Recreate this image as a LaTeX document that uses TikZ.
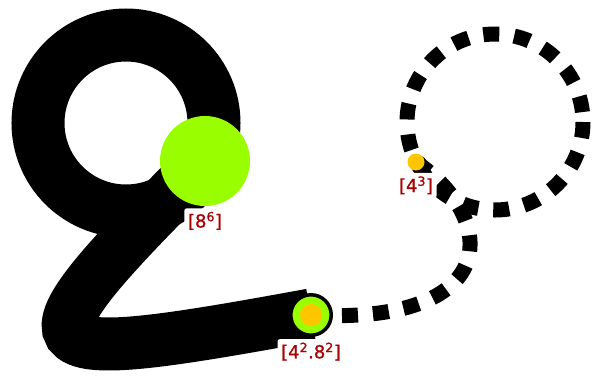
\documentclass[tikz,border=0pt]{standalone}
\usepackage{fontspec}
\setmainfont{DejaVu Sans}
\newfontfamily\labfont[FakeBold=1]{DejaVu Sans}
\usetikzlibrary{positioning,calc}
\definecolor{limegreen}{RGB}{153,255,0}
\definecolor{goldorange}{RGB}{255,198,0}
\definecolor{labelred}{RGB}{168,4,4}
\pgfdeclarelayer{edges}
\pgfsetlayers{edges,main}

\begin{document}
\begin{tikzpicture}[x=1pt, y=-1pt,
    thickedge/.style={line width=53pt, black},
    dashedge/.style={line width=15pt, black, dash pattern=on 16pt off 15pt},
    lab/.style={fill=white, text=labelred, font=\labfont\fontsize{18}{18}\selectfont, inner sep=3.5pt, rounded corners=2pt}]
    \useasboundingbox (0,0) rectangle (592,384);

    % vertices
    \node[circle, fill=limegreen, minimum size=90pt, inner sep=0pt] (n86) at (205,161) {};
    \node[circle, draw=black, line width=3.5pt, fill=limegreen, minimum size=40.5pt, inner sep=0pt,
          path picture={\fill[goldorange] (path picture bounding box.center) circle (11pt);}] (n4282) at (311,315) {};
    \node[circle, fill=goldorange, minimum size=17pt, inner sep=0pt,
          preaction={fill=black, transform canvas={shift={(2.5pt,-2pt)}}}] (n43) at (416,162) {};

    % labels
    \node[lab, below=2pt of n86] (l86) {[8\textsuperscript{6}]};
    \node[lab, below=2pt of n4282] (l4282) {[4\textsuperscript{2}.8\textsuperscript{2}]};
    \node[lab, below=2pt of n43] (l43) {[4\textsuperscript{3}]};

    % edges, behind the vertices
    \begin{pgfonlayer}{edges}
        \draw[thickedge] ($(n86)+(-79,-38)$) circle[radius=88];
        \draw[thickedge] (n86.center) .. controls ($(n86)+(-200,200)$) and ($(n4282)+(-300,55)$) .. (n4282.center);
        \draw[dashedge] ($(n43)+(79,-40)$) circle[radius=88];
        \draw[dashedge] (n4282.center) .. controls ($(n4282)+(190,10)$) and ($(n43)+(84,58)$) .. (n43.center);
    \end{pgfonlayer}
\end{tikzpicture}
\end{document}
